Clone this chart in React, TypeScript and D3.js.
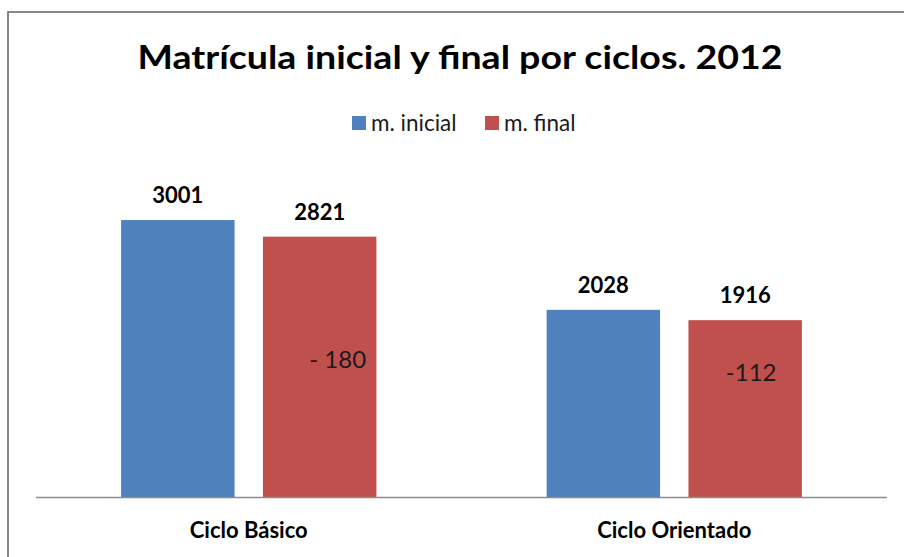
import React from "react";
import * as d3 from "d3";

const categories = ["Ciclo Básico", "Ciclo Orientado"];
const seriesNames = ["m. inicial", "m. final"];
const inicial = [3001, 2028];
const final = [2821, 1916];
const differences = ["- 180", "-112"];
const title = "Matrícula inicial y final por ciclos. 2012";

const COLORS = ["#4F81BD", "#C0504D"];
const FONT = "Lato, 'Open Sans', sans-serif";

export default function App() {
  const W = 904;
  const H = 557;
  const left = 36;
  const right = 887;
  const baseY = 497;

  const x0 = d3
    .scaleBand<string>()
    .domain(categories)
    .range([left, right])
    .paddingInner(0.4)
    .paddingOuter(0.2);
  const x1 = d3
    .scaleBand<string>()
    .domain(seriesNames)
    .range([0, x0.bandwidth()])
    .paddingInner(0.2)
    .paddingOuter(0);
  const y = d3.scaleLinear().domain([0, 3500]).range([baseY, 174]);

  const values = [inicial, final];

  // layout of free-floating difference annotations (pixel offsets from bar)
  const annotLayout = [
    { dx: 18, baseline: 368 },
    { dx: 6, baseline: 381 },
  ];

  // legend layout
  const legendItems = [
    { sq: 352, tx: 371 },
    { sq: 485, tx: 504 },
  ];

  return (
    <svg
      width={W}
      height={H}
      style={{ position: "absolute", left: 0, top: 0, background: "#fff" }}
    >
      <rect x={0} y={0} width={W} height={H} fill="#fff" />
      <rect
        x={8}
        y={12}
        width={W + 20}
        height={H + 20}
        fill="#fff"
        stroke="#878787"
        strokeWidth={2}
      />
      <text
        x={460}
        y={69}
        textAnchor="middle"
        fontFamily={FONT}
        fontWeight={700}
        fontSize={32}
        fill="#000"
        textLength={645}
        lengthAdjust="spacingAndGlyphs"
      >
        {title}
      </text>

      {seriesNames.map((s, i) => (
        <g key={s}>
          <rect
            x={legendItems[i].sq}
            y={116}
            width={14}
            height={14}
            fill={COLORS[i]}
          />
          <text
            x={legendItems[i].tx}
            y={131}
            fontFamily={FONT}
            fontSize={22.5}
            fill="#1a1a1a"
          >
            {s}
          </text>
        </g>
      ))}

      {categories.map((c, ci) => (
        <g key={c}>
          {seriesNames.map((s, si) => {
            const v = values[si][ci];
            const bx = (x0(c) ?? 0) + (x1(s) ?? 0);
            const bw = x1.bandwidth();
            return (
              <g key={s}>
                <rect
                  x={bx}
                  y={y(v)}
                  width={bw}
                  height={baseY - y(v)}
                  fill={COLORS[si]}
                />
                <text
                  x={bx + bw / 2}
                  y={y(v) - 17}
                  textAnchor="middle"
                  fontFamily={FONT}
                  fontWeight={700}
                  fontSize={22}
                  fill="#000"
                >
                  {v}
                </text>
              </g>
            );
          })}
          {(() => {
            const bx = (x0(c) ?? 0) + (x1(seriesNames[1]) ?? 0);
            const bw = x1.bandwidth();
            return (
              <text
                x={bx + bw / 2 + annotLayout[ci].dx}
                y={annotLayout[ci].baseline}
                textAnchor="middle"
                fontFamily={FONT}
                fontSize={24}
                fill="#1a1a1a"
              >
                {differences[ci]}
              </text>
            );
          })()}
          <text
            x={(x0(c) ?? 0) + x0.bandwidth() / 2}
            y={538}
            textAnchor="middle"
            fontFamily={FONT}
            fontWeight={700}
            fontSize={22}
            fill="#000"
          >
            {c}
          </text>
        </g>
      ))}

      <line
        x1={left}
        x2={right}
        y1={baseY + 0.5}
        y2={baseY + 0.5}
        stroke="#8c8c8c"
        strokeWidth={1.5}
      />
    </svg>
  );
}
